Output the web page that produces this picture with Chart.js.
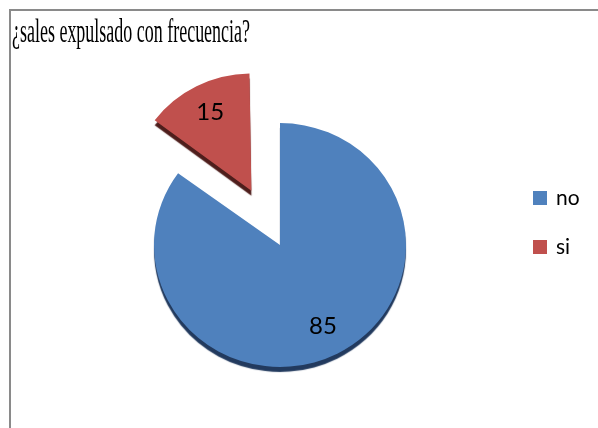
<!DOCTYPE html>
<html>
<head>
<meta charset="utf-8">
<script src="https://cdn.jsdelivr.net/npm/chart.js@4/dist/chart.umd.min.js"></script>
<style>
  html, body { margin: 0; padding: 0; background: #ffffff; }
  #wrap { width: 598px; height: 428px; }
  canvas { display: block; }
</style>
</head>
<body>
<div id="wrap"><canvas id="chart" width="598" height="428"></canvas></div>
<script>
// Survey answers
const chartTitle = '¿sales expulsado con frecuencia?';
const categories = ['no', 'si'];
const counts = [85, 15];

// Styling
const sliceColors = ['#4F81BD', '#C0504D'];
const depthColors = ['#223A5E', '#4E1E1C'];
const PIE_RADIUS = 126;
const EXPLODE_OFFSET = 252;      // Chart.js moves a slice by offset / 4
const EXPLODED_SCALE = 0.96;     // exploded slice drawn a little smaller
const SQUASH = 0.968;            // slight vertical tilt of the pie
const DEPTH = 5;                 // thickness of the pie edge
const LABEL_POS = 0.75;          // value label distance, fraction of radius

// Pie with a dark edge underneath, drawn through the library's arc elements
const pieDepth = {
  id: 'pieDepth',
  beforeDatasetDraw(chart, args) {
    const ctx = chart.ctx;
    args.meta.data.forEach((arc, i) => {
      const off = (arc.options.offset || 0) / 4;
      const span = arc.endAngle - arc.startAngle;
      const fix = 1 - Math.sin(Math.min(Math.PI, span));
      const base = arc.outerRadius;
      const target = off > 0 ? base * EXPLODED_SCALE : base;
      arc.outerRadius = target - off * fix;
      ctx.save();
      ctx.translate(arc.x, arc.y);
      ctx.scale(1, SQUASH);
      ctx.translate(-arc.x, -arc.y);
      ctx.shadowColor = depthColors[i];
      ctx.shadowOffsetX = 0;
      ctx.shadowOffsetY = DEPTH;
      ctx.shadowBlur = 1;
      arc.draw(ctx);
      ctx.restore();
      arc.outerRadius = base;
    });
    return false;
  },
  afterDatasetsDraw(chart) {
    const ctx = chart.ctx;
    const meta = chart.getDatasetMeta(0);
    const values = chart.data.datasets[0].data;
    ctx.save();
    ctx.fillStyle = '#000000';
    ctx.font = '24px Lato';
    ctx.textAlign = 'center';
    ctx.textBaseline = 'middle';
    meta.data.forEach((arc, i) => {
      const off = (arc.options.offset || 0) / 4;
      const mid = (arc.startAngle + arc.endAngle) / 2;
      const r = (off > 0 ? arc.outerRadius * EXPLODED_SCALE : arc.outerRadius) * LABEL_POS;
      const x = arc.x + Math.cos(mid) * (off + r);
      const y = arc.y + Math.sin(mid) * (off + r) * SQUASH;
      ctx.fillText(String(values[i]), x, y);
    });
    ctx.restore();
  }
};

// Frame, title and legend
const decorations = {
  id: 'decorations',
  afterDraw(chart) {
    const ctx = chart.ctx;
    ctx.save();
    // frame
    ctx.strokeStyle = '#8A8A8A';
    ctx.lineWidth = 2;
    ctx.beginPath();
    ctx.moveTo(10, 428);
    ctx.lineTo(10, 10);
    ctx.lineTo(598, 10);
    ctx.stroke();

    // condensed serif title
    ctx.fillStyle = '#000000';
    ctx.font = '33px "Liberation Serif"';
    ctx.textBaseline = 'alphabetic';
    ctx.textAlign = 'left';
    const w = ctx.measureText(chartTitle).width;
    const sx = 238 / w;
    ctx.save();
    ctx.translate(12, 42);
    ctx.scale(sx, 1);
    ctx.fillText(chartTitle, 0, 0);
    ctx.restore();

    // legend
    const items = chart.options.plugins.legend.labels.generateLabels(chart);
    ctx.font = '21px Lato';
    items.forEach((it, i) => {
      const top = 191 + i * 49;
      ctx.fillStyle = it.fillStyle;
      ctx.fillRect(533, top, 14, 14);
      ctx.fillStyle = '#000000';
      ctx.fillText(it.text, 556, top + 14);
    });
    ctx.restore();
  }
};

new Chart(document.getElementById('chart'), {
  type: 'pie',
  data: {
    labels: categories,
    datasets: [{
      data: counts,
      backgroundColor: sliceColors,
      borderWidth: 0,
      offset: [0, EXPLODE_OFFSET]
    }]
  },
  options: {
    responsive: false,
    animation: false,
    devicePixelRatio: 1,
    radius: PIE_RADIUS,
    layout: { padding: { left: 0, right: 38, top: 62, bottom: 0 } },
    plugins: {
      legend: { display: false },
      title: { display: false },
      tooltip: { enabled: false }
    },
    events: []
  },
  plugins: [pieDepth, decorations]
});
</script>
</body>
</html>
